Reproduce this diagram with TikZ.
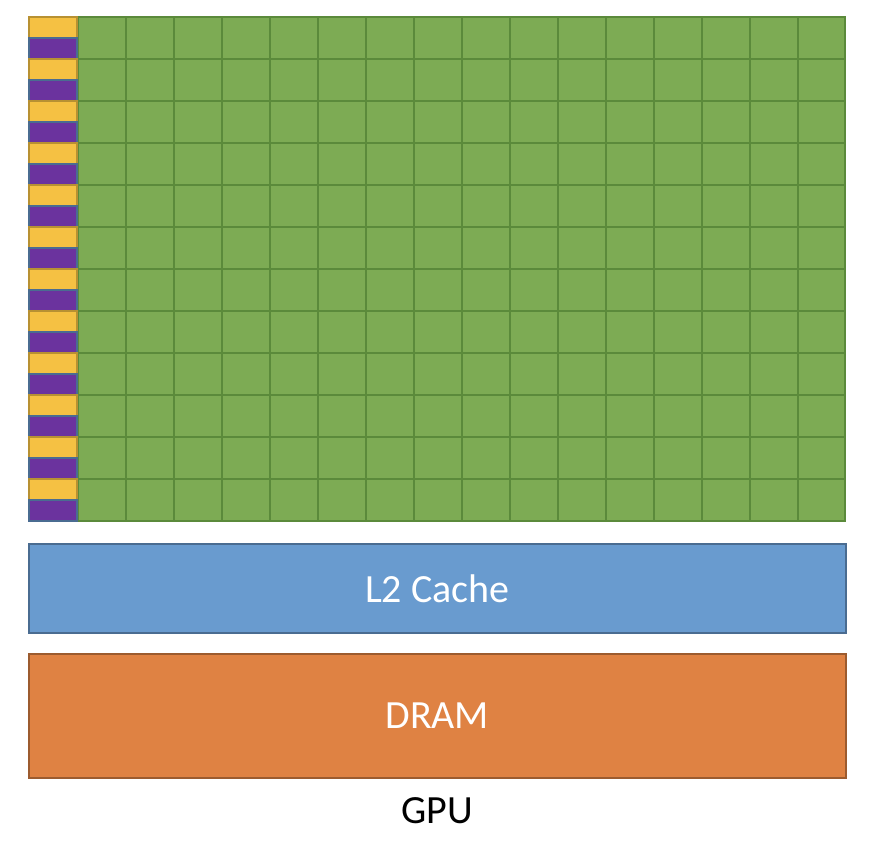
\documentclass[tikz,border=0pt]{standalone}
\usepackage{fontspec}
\setmainfont{Carlito}
\usetikzlibrary{positioning}
\definecolor{coregreen}{HTML}{7DAB54}
\definecolor{coreline}{HTML}{5B8A3B}
\definecolor{unityellow}{HTML}{F5C143}
\definecolor{unitpurple}{HTML}{6B339E}
\definecolor{cacheblue}{HTML}{699BCF}
\definecolor{dramorange}{HTML}{DF8243}
\begin{document}
\begin{tikzpicture}[x=1pt,y=-1pt,
    unitbox/.style={line width=1.2pt},
    membox/.style={draw,line width=1.5pt,minimum width=817pt,anchor=north west,text=white,font=\fontsize{40}{46}\selectfont}]
		    \useasboundingbox (0,0) rectangle (870,844);
		    % cores
		    \filldraw[fill=coregreen,draw=coreline,line width=1.5pt](78,17) rectangle (845,521);
		    \foreach \c in {1,...,15} \draw[coreline,line width=1.5pt](78+48*\c,17)--(78+48*\c,521);
		    \foreach \r in {1,...,11} \draw[coreline,line width=1.5pt](78,17+42*\r)--(845,17+42*\r);
		    % yellow and purple units
		    \foreach \r in {0,...,11} {
		        \filldraw[unitbox,fill=unityellow,draw=unityellow!75!black](29,17+42*\r) rectangle (77,38+42*\r);
		        \filldraw[unitbox,fill=unitpurple,draw=cacheblue!70!black](29,38+42*\r) rectangle (77,59+42*\r);
		    }
		    \node[membox,fill=cacheblue,draw=cacheblue!70!black,minimum height=89pt] (l2) at (28,543) {L2 Cache};
		    \node[membox,fill=dramorange,draw=dramorange!70!black,minimum height=124pt] (dram) at (28,653) {DRAM};
		    \node[font=\fontsize{40}{46}\selectfont,below=15pt of dram] (gpu) {GPU};
		\end{tikzpicture}
\end{document}
